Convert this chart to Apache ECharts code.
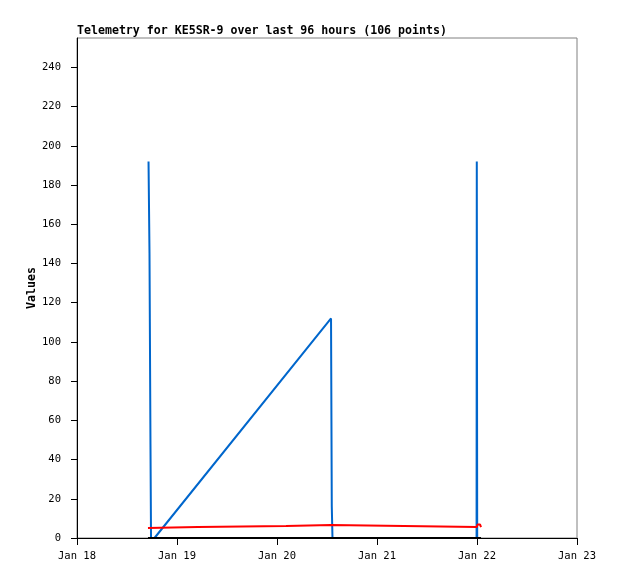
<!DOCTYPE html>
<html><head><meta charset="utf-8">
<script src="https://cdn.jsdelivr.net/npm/echarts@6/dist/echarts.min.js"></script>
<style>html,body{margin:0;padding:0;background:#fff}#c{width:618px;height:579px}</style>
</head><body><div id="c"></div>
<script>
const titleText = 'Telemetry for KE5SR-9 over last 96 hours (106 points)';
const yAxisName = 'Values';
const xTickDays = ['2024-01-18','2024-01-19','2024-01-20','2024-01-21','2024-01-22','2024-01-23'];
const xTickLabels = ['Jan 18','Jan 19','Jan 20','Jan 21','Jan 22','Jan 23'];
const yTicks = [0,20,40,60,80,100,120,140,160,180,200,220,240];
const yMax = 255;

const blueTimes = ['2024-01-18T17:10Z','2024-01-18T17:24Z','2024-01-18T17:38Z','2024-01-18T17:46Z','2024-01-18T18:36Z',
  '2024-01-20T12:58Z','2024-01-20T13:09Z','2024-01-20T13:19Z','2024-01-21T23:54Z','2024-01-21T23:57Z','2024-01-22T00:03Z','2024-01-22T00:58Z'];
const blueValues = [192,145,48,0,0,112,16,0,0,192,0,0];

const redTimes = ['2024-01-18T17:02Z','2024-01-18T17:10Z','2024-01-19T05:02Z','2024-01-19T05:10Z','2024-01-20T02:10Z','2024-01-20T02:17Z',
  '2024-01-20T12:58Z','2024-01-20T13:09Z','2024-01-21T23:57Z','2024-01-22T00:07Z','2024-01-22T00:43Z','2024-01-22T00:58Z'];
const redValues = [5.1,5.6,5.6,6.1,6.1,6.6,6.6,5.6,5.6,6.9,6.9,5.6];

const blackTimes = ['2024-01-18T17:02Z','2024-01-22T00:58Z'];
const blackValues = [0,0];

const ts = s => Date.parse(s);
const DAY = 86400000;
const pair = (t, v) => t.map((s, i) => [ts(s), v[i]]);
const tickMs = xTickDays.map(d => ts(d + 'T00:00Z'));
const labelFor = v => { const i = tickMs.indexOf(v); return i >= 0 ? xTickLabels[i] : ''; };

const chart = echarts.init(document.getElementById('c'), null, {renderer: 'canvas'});
const mono = 'DejaVu Sans Mono';
chart.setOption({
  animation: false,
  backgroundColor: '#fff',
  title: {text: titleText, left: 77, top: 25, padding: 0,
    textStyle: {fontFamily: mono, fontSize: 11.6, fontWeight: 'bold', color: '#000'}},
  grid: {left: 77, right: 41, top: 38, bottom: 41, show: true, borderColor: '#808080', borderWidth: 1, backgroundColor: 'transparent'},
  xAxis: {type: 'value', min: tickMs[0], max: tickMs[tickMs.length - 1], interval: DAY,
    axisLine: {show: true, onZero: false, lineStyle: {color: '#000', width: 1}},
    axisTick: {show: true, inside: false, length: 7, lineStyle: {color: '#000'}, customValues: tickMs},
    axisLabel: {show: true, margin: 13, fontFamily: mono, fontSize: 10.5, color: '#000', customValues: tickMs, formatter: labelFor},
    splitLine: {show: false}},
  yAxis: {type: 'value', min: 0, max: yMax, interval: 20,
    name: yAxisName, nameLocation: 'middle', nameGap: 39, nameMoveOverlap: false,
    nameTextStyle: {fontFamily: mono, fontSize: 11.6, fontWeight: 'bold', color: '#000'},
    axisLine: {show: true, lineStyle: {color: '#000', width: 1}},
    axisTick: {show: true, inside: false, length: 6, lineStyle: {color: '#000'}, customValues: yTicks},
    axisLabel: {show: true, margin: 16, fontFamily: mono, fontSize: 10.5, color: '#000', customValues: yTicks},
    splitLine: {show: false}},
  series: [
    {type: 'line', data: pair(blueTimes, blueValues), showSymbol: false, symbol: 'none',
      lineStyle: {color: '#0066cc', width: 2}, itemStyle: {color: '#0066cc'}, z: 2},
    {type: 'line', data: pair(redTimes, redValues), showSymbol: false, symbol: 'none',
      lineStyle: {color: '#ff0000', width: 2}, itemStyle: {color: '#ff0000'}, z: 3},
    {type: 'line', data: pair(blackTimes, blackValues), showSymbol: false, symbol: 'none',
      lineStyle: {color: '#000000', width: 2}, itemStyle: {color: '#000'}, z: 4}
  ]
});
</script></body></html>
